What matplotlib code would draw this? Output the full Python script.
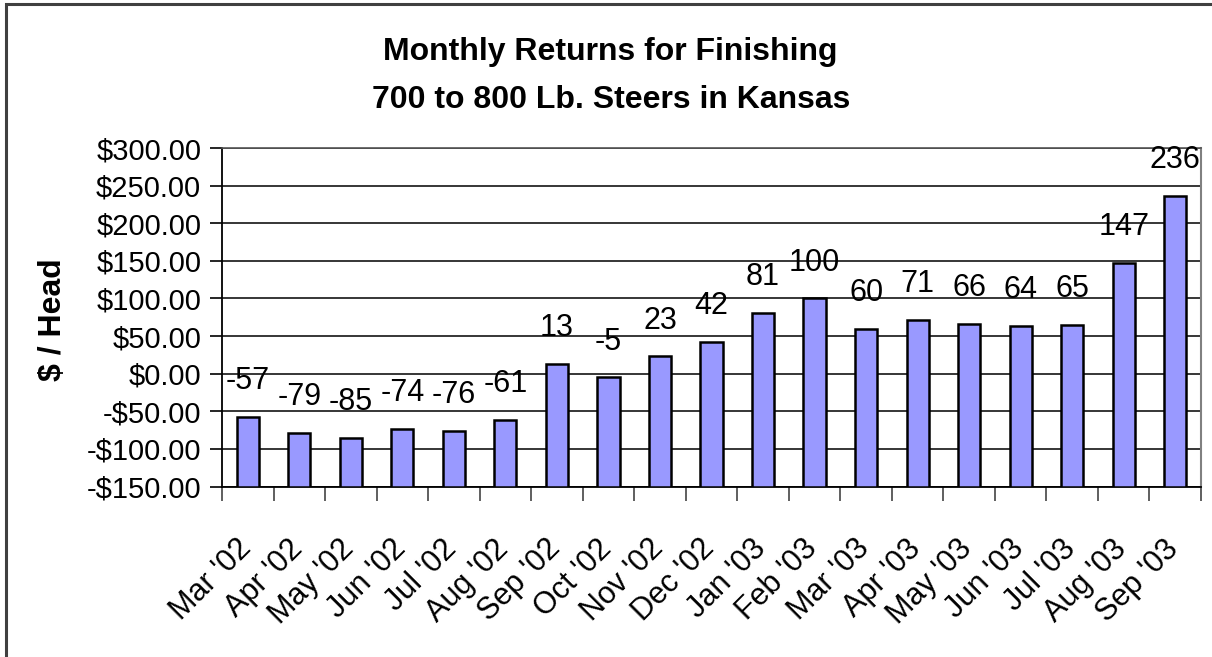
import matplotlib.pyplot as plt
import matplotlib.patches as patches
import matplotlib.transforms as mtransforms
import numpy as np

plt.rcParams['font.family'] = ['Liberation Sans', 'DejaVu Sans']

months = ["Mar '02", "Apr '02", "May '02", "Jun '02", "Jul '02", "Aug '02",
          "Sep '02", "Oct '02", "Nov '02", "Dec '02", "Jan '03", "Feb '03",
          "Mar '03", "Apr '03", "May '03", "Jun '03", "Jul '03", "Aug '03",
          "Sep '03"]
returns = [-57, -79, -85, -74, -76, -61, 13, -5, 23, 42, 81, 100,
           60, 71, 66, 64, 65, 147, 236]
y_ticks = [-150, -100, -50, 0, 50, 100, 150, 200, 250, 300]
base = -150  # bars are drawn up from the bottom of the axis, Excel style

fig = plt.figure(figsize=(12.12, 6.57), dpi=100)
ax = fig.add_axes([222 / 1212, 1 - 486.5 / 657, (1201 - 222) / 1212, (486.5 - 148) / 657])

x = np.arange(len(months))
vals = np.array(returns)
ax.bar(x, vals - base, bottom=base, width=0.43, color='#9999ff',
       edgecolor='black', linewidth=1.8, zorder=3)

# value labels above each bar
for xi, v in zip(x, returns):
    ax.annotate(str(v), (xi, v), xytext=(0, 15), textcoords='offset points',
                ha='center', va='bottom', fontsize=22, zorder=4)

ax.set_xlim(-0.5, len(months) - 0.5)
ax.set_ylim(-150, 300)
ax.set_yticks(y_ticks)
ax.set_yticklabels([f"-${abs(t):.2f}" if t < 0 else f"${t:.2f}" for t in y_ticks])
ax.tick_params(axis='y', labelsize=21, length=9, width=1.2, pad=6, direction='out')
ax.yaxis.grid(True, color='black', linewidth=1.1, zorder=0)

ax.set_xticks(x)
ax.set_xticklabels(months, rotation=45, ha='right', va='top',
                   rotation_mode='anchor', fontsize=22)
ax.tick_params(axis='x', which='major', length=0, pad=34)
shift = mtransforms.ScaledTranslation(-12 / 100, 0, fig.dpi_scale_trans)
for lbl in ax.get_xticklabels():
    lbl.set_transform(lbl.get_transform() + shift)
ax.set_xticks(np.arange(-0.5, len(months)), minor=True)
ax.tick_params(axis='x', which='minor', length=10, width=1.2, color='#444444')

for s in ['left', 'bottom']:
    ax.spines[s].set_color('black')
    ax.spines[s].set_linewidth(1.3)
ax.spines['right'].set_color('#808080')
ax.spines['right'].set_linewidth(1.5)
ax.spines['top'].set_color('#555555')
ax.spines['top'].set_linewidth(1.2)

ax.set_ylabel('$ / Head', fontsize=23, fontweight='bold')
ax.yaxis.set_label_coords(-(222 - 68) / 979, (486.5 - 320) / 338.5)

fig.text(610 / 1212, 1 - 52 / 657, 'Monthly Returns for Finishing',
         ha='center', va='center', fontsize=23, fontweight='bold')
fig.text(611 / 1212, 1 - 100 / 657, '700 to 800 Lb. Steers in Kansas',
         ha='center', va='center', fontsize=23, fontweight='bold')

# outer chart frame (right and bottom edges fall outside the image)
frame = patches.Rectangle((5.5 / 1212, -0.05), 1.2, 1 - 3.5 / 657 + 0.05,
                          transform=fig.transFigure, fill=False,
                          edgecolor='#404040', linewidth=2.2)
fig.patches.append(frame)

fig.savefig('out.png', dpi=100)
